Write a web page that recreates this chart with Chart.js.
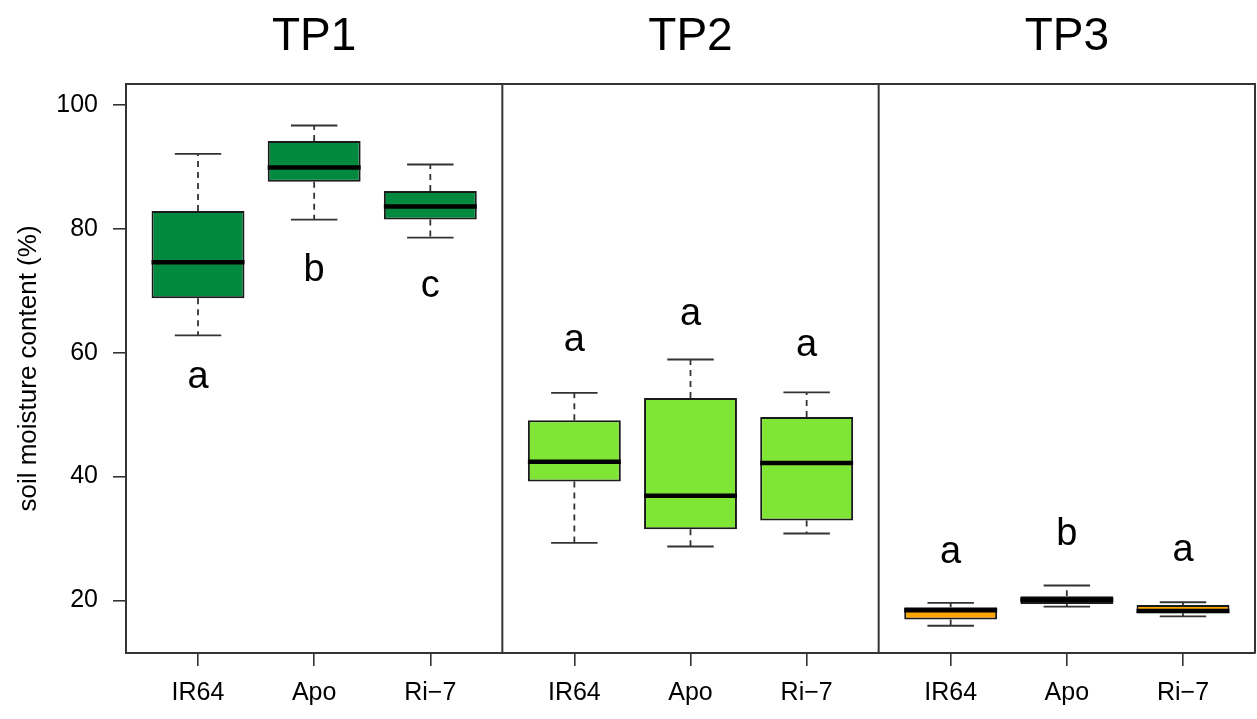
<!DOCTYPE html>
<html>
<head>
<meta charset="utf-8">
<title>soil moisture content</title>
<script src="https://cdn.jsdelivr.net/npm/chart.js@4.4.1/dist/chart.umd.min.js"></script>
<style>
  html, body { margin: 0; padding: 0; background: #fff; }
  #wrap { width: 1257px; height: 719px; position: relative; }
</style>
</head>
<body>
<div id="wrap"><canvas id="moistureChart"></canvas></div>
<script>
// time points (panels) and genotypes
const panels = ['TP1', 'TP2', 'TP3'];
const genotypes = ['IR64', 'Apo', 'Ri\u22127'];

// box statistics, 9 boxes: TP1 (IR64, Apo, Ri-7), TP2 (...), TP3 (...)
const whiskerLow  = [62.8, 81.5, 78.6, 29.3, 28.7, 30.8, 15.9, 19.0, 17.4];
const quartile1   = [68.8, 87.6, 81.5, 39.2, 31.5, 32.9, 16.9, 19.4, 17.9];
const median      = [74.6, 89.9, 83.6, 42.4, 36.9, 42.2, 18.4, 20.1, 18.3];
const quartile3   = [82.9, 94.2, 86.1, 49.1, 52.7, 49.6, 18.9, 20.65, 19.25];
const whiskerHigh = [92.1, 96.7, 90.4, 53.5, 58.9, 53.6, 19.6, 22.4, 19.7];

// significance letters and where they sit (baseline, in % units)
const letters = ['a', 'b', 'c', 'a', 'a', 'a', 'a', 'b', 'a'];
const letterY = [54.3, 71.6, 69.0, 60.2, 64.5, 59.4, 26.0, 29.0, 26.3];

const yTicks = [20, 40, 60, 80, 100];

const panelColors = ['#00893F', '#80E636', '#FFA500'];

// each panel spans 3.24 x-units (R adds 4% around 0.5..3.5)
const panelWidth = 3.24;
const xPos = [];
const boxColors = [];
panels.forEach((p, pi) => {
    genotypes.forEach((g, gi) => {
        xPos.push(pi * panelWidth + 0.62 + gi);
        boxColors.push(panelColors[pi]);
    });
});

const boxData = xPos.map((x, i) => ({ x: x, y: [quartile1[i], quartile3[i]] }));

const FONT = '"Liberation Sans", Arial, Helvetica, sans-serif';
const INK = '#333333';

// whiskers, medians, panel frames, titles and letters
const boxplotExtras = {
    id: 'boxplotExtras',
    beforeDatasetsDraw(chart) {
        const { ctx } = chart;
        const xs = chart.scales.x, ys = chart.scales.y;
        const capHalf = (xs.getPixelForValue(0.2) - xs.getPixelForValue(0));
        ctx.save();
        ctx.strokeStyle = INK;
        ctx.lineWidth = 1.8;
        xPos.forEach((x, i) => {
            const px = xs.getPixelForValue(x);
            const yLo = ys.getPixelForValue(whiskerLow[i]);
            const yQ1 = ys.getPixelForValue(quartile1[i]);
            const yQ3 = ys.getPixelForValue(quartile3[i]);
            const yHi = ys.getPixelForValue(whiskerHigh[i]);
            ctx.setLineDash([6, 5]);
            ctx.beginPath();
            ctx.moveTo(px, yQ3); ctx.lineTo(px, yHi);
            ctx.moveTo(px, yQ1); ctx.lineTo(px, yLo);
            ctx.stroke();
            ctx.setLineDash([]);
            ctx.beginPath();
            ctx.moveTo(px - capHalf, yHi); ctx.lineTo(px + capHalf, yHi);
            ctx.moveTo(px - capHalf, yLo); ctx.lineTo(px + capHalf, yLo);
            ctx.stroke();
        });
        ctx.restore();
    },
    afterDatasetsDraw(chart) {
        const { ctx, chartArea } = chart;
        const xs = chart.scales.x, ys = chart.scales.y;
        const boxHalf = (xs.getPixelForValue(0.4) - xs.getPixelForValue(0));
        ctx.save();
        // medians
        ctx.strokeStyle = '#000';
        ctx.lineWidth = 4.5;
        xPos.forEach((x, i) => {
            const px = xs.getPixelForValue(x);
            const py = ys.getPixelForValue(median[i]);
            ctx.beginPath();
            ctx.moveTo(px - boxHalf, py); ctx.lineTo(px + boxHalf, py);
            ctx.stroke();
        });
        // letters
        ctx.fillStyle = '#000';
        ctx.font = '38px ' + FONT;
        ctx.textAlign = 'center';
        ctx.textBaseline = 'alphabetic';
        xPos.forEach((x, i) => {
            ctx.fillText(letters[i], xs.getPixelForValue(x), ys.getPixelForValue(letterY[i]));
        });
        // frame and panel dividers
        ctx.strokeStyle = INK;
        ctx.lineWidth = 2;
        ctx.beginPath();
        ctx.moveTo(chartArea.left, chartArea.top);
        ctx.lineTo(chartArea.right, chartArea.top);
        ctx.lineTo(chartArea.right, chartArea.bottom);
        for (let p = 1; p < panels.length; p++) {
            const dx = xs.getPixelForValue(p * panelWidth);
            ctx.moveTo(dx, chartArea.top);
            ctx.lineTo(dx, chartArea.bottom);
        }
        ctx.stroke();
        // panel titles
        ctx.font = '46px ' + FONT;
        panels.forEach((p, pi) => {
            const cx = xs.getPixelForValue((pi + 0.5) * panelWidth);
            ctx.fillText(p, cx, chartArea.top - 34);
        });
        ctx.restore();
    }
};

const ctx = document.getElementById('moistureChart').getContext('2d');
new Chart(ctx, {
    type: 'bar',
    data: {
        datasets: [{
            data: boxData,
            backgroundColor: boxColors,
            borderColor: '#1a1a1a',
            borderWidth: 2,
            borderSkipped: false,
            barPercentage: 0.8,
            categoryPercentage: 1.0
        }]
    },
    options: {
        responsive: true,
        maintainAspectRatio: false,
        animation: false,
        layout: { padding: { top: 84, right: 2, left: 0, bottom: 0 } },
        plugins: {
            legend: { display: false },
            tooltip: { enabled: false }
        },
        scales: {
            x: {
                type: 'linear',
                min: 0,
                max: panelWidth * panels.length,
                offset: false,
                afterFit: scale => { scale.height = 66; },
                afterBuildTicks: scale => { scale.ticks = xPos.map(v => ({ value: v })); },
                grid: {
                    offset: false,
                    drawOnChartArea: false,
                    drawTicks: true,
                    tickLength: 13,
                    color: INK,
                    lineWidth: 1.6
                },
                border: { display: true, color: INK, width: 2 },
                ticks: {
                    autoSkip: false,
                    maxRotation: 0,
                    padding: 12,
                    color: '#000',
                    font: { family: FONT, size: 25 },
                    callback: (value, index) => genotypes[index % genotypes.length]
                }
            },
            y: {
                min: 11.5,
                max: 103.4,
                afterFit: scale => { scale.width = 126; },
                afterBuildTicks: scale => { scale.ticks = yTicks.map(v => ({ value: v })); },
                grid: {
                    drawOnChartArea: false,
                    drawTicks: true,
                    tickLength: 13,
                    color: INK,
                    lineWidth: 1.6
                },
                border: { display: true, color: INK, width: 2 },
                ticks: {
                    padding: 15,
                    color: '#000',
                    font: { family: FONT, size: 25 }
                },
                title: {
                    display: true,
                    text: 'soil moisture content (%)',
                    color: '#000',
                    font: { family: FONT, size: 26 },
                    padding: { top: 13, bottom: 0 }
                }
            }
        }
    },
    plugins: [boxplotExtras]
});
</script>
</body>
</html>
